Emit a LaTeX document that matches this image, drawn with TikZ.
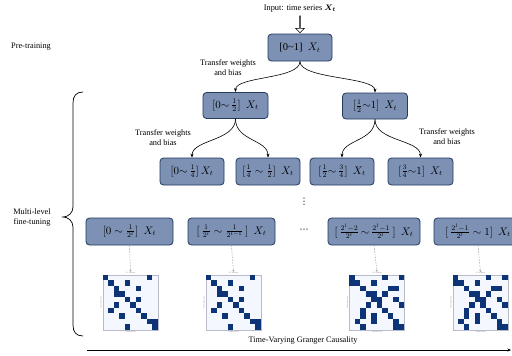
\documentclass[tikz,border=0pt]{standalone}
\usepackage{amsmath}
\usepackage{bm}
\usepackage{fontspec}
\setmainfont{Liberation Serif}
\newfontfamily\dvsym{DejaVu Sans}
\usetikzlibrary{arrows.meta,shapes.arrows}
\definecolor{boxfill}{RGB}{124,145,180}
\definecolor{boxdraw}{RGB}{36,58,94}
\definecolor{cellc}{RGB}{12,52,118}
\definecolor{matbg}{RGB}{244,248,254}
\definecolor{matline}{RGB}{185,188,198}
\definecolor{dashc}{RGB}{165,165,165}
\tikzset{
  stagebox/.style={draw=boxdraw, fill=boxfill, rounded corners=3.5pt, line width=0.8pt,
    minimum height=27pt, inner sep=0pt, font=\fontsize{10.5}{12}\selectfont},
  lbl/.style={font=\fontsize{8.3}{10}\selectfont, align=center, inner sep=0pt},
  arr/.style={line width=0.6pt, -{Stealth[length=4pt,width=3pt]}},
  darr/.style={draw=dashc, line width=0.5pt, dash pattern=on 1.6pt off 1.2pt, -{Stealth[length=2.5pt,width=2.2pt]}},
  matbox/.style={draw=matline, fill=matbg, line width=0.6pt, minimum width=55pt, minimum height=55pt, inner sep=0pt},
  tinytxt/.style={font=\fontsize{2}{2}\selectfont, text=gray, inner sep=0pt},
}
\begin{document}
\begin{tikzpicture}[x=1pt,y=-1pt]
\useasboundingbox (0,0) rectangle (512,356);
\clip (0,0) rectangle (512,356);
% input
\node[lbl] (inp) at (300,9) {Input: time series $\bm{X_t}$};
\node[single arrow, draw, fill=white, line width=0.5pt, shape border rotate=270,
  minimum height=17pt, minimum width=9pt, single arrow head extend=2pt, inner sep=0pt] (inarr) at (300,24) {};
% level 1
\node[stagebox, minimum width=64pt] (b0) at (300,47.5) {[0\textasciitilde1]\ \ $X_t$};
\node[lbl] (pre) at (31,47) {Pre-training};
% level 2
\node[stagebox, minimum width=65pt, minimum height=26pt] (b1) at (235.5,105.5) {$[0{\sim}\,\frac{1}{2}]\ \ X_t$};
\node[stagebox, minimum width=65pt, minimum height=26pt] (b2) at (375,106) {$[\frac{1}{2}{\sim}1]\ \ X_t$};
\node[lbl] (tw0) at (228,68) {Transfer weights\\and bias};
% level 3
\node[stagebox, minimum width=64pt] (b11) at (192,171.5) {$[0{\sim}\,\frac{1}{4}]\,X_t$};
\node[stagebox, minimum width=64pt] (b12) at (268,171.5) {$[\frac{1}{4}\sim\frac{1}{2}]\ \ X_t$};
\node[stagebox, minimum width=64pt] (b21) at (342,171.5) {$[\frac{1}{2}{\sim}\,\frac{3}{4}]\ \ X_t$};
\node[stagebox, minimum width=65pt] (b22) at (420.5,171.5) {$[\frac{3}{4}{\sim}1]\ \ X_t$};
\node[lbl] (tw1) at (163,137.5) {Transfer weights\\and bias};
\node[lbl] (tw2) at (447,136.5) {Transfer weights\\and bias};
% connectors
\draw[arr] (b0.south) .. controls +(0,18) and +(0,-16) .. (b1.north);
\draw[arr] (b0.south) .. controls +(0,18) and +(0,-16) .. (b2.north);
\draw[arr] (b1.south) .. controls +(0,22) and +(0,-18) .. (b11.north);
\draw[arr] (b1.south) .. controls +(0,22) and +(0,-18) .. (b12.north);
\draw[arr] (b2.south) .. controls +(0,22) and +(0,-18) .. (b21.north);
\draw[arr] (b2.south) .. controls +(0,22) and +(0,-18) .. (b22.north);
% dots
\node[inner sep=0pt, font=\dvsym\fontsize{9}{9}\selectfont] (vd) at (304,202) {⋮};
\node[inner sep=0pt, font=\dvsym\fontsize{9}{9}\selectfont] (hd) at (304,231) {⋯};
% level l
\node[stagebox, minimum width=87pt] (c1) at (129.5,231.5) {$[0\sim\frac{1}{2^l}]\ \ X_t$};
\node[stagebox, minimum width=87pt] (c2) at (231.5,231.5) {$[\,\frac{1}{2^l}\sim\frac{1}{2^{l-1}}\,]\ \ X_t$};
\node[stagebox, minimum width=92pt] (c3) at (374,231.5) {$[\,\frac{2^l-2}{2^l}\,{\sim}\,\frac{2^l-1}{2^l}\,]\ \ X_t$};
\node[stagebox, minimum width=88pt] (c4) at (478,231.5) {$[\,\frac{2^l-1}{2^l}\sim 1]\ \ X_t$};
% brace and its label
\draw[line width=0.7pt] (83,92) .. controls (76,92) and (73,96) .. (73,103) -- (73,207)
  .. controls (73,213) and (68,217) .. (63,217) .. controls (68,217) and (73,221) .. (73,227)
  -- (73,325) .. controls (73,332) and (76,336) .. (83,336);
\node[lbl] (ml) at (32,217.5) {Multi-level\\fine-tuning};
% matrices
\foreach \nm/\cx/\cc/\pat in {
  1/130.5/c1/{0/0,0/8,1/1,1/4,2/2,2/6,3/2,3/3,4/4,4/6,5/2,5/5,6/1,6/6,7/3,7/7,8/8,8/9,9/4,9/9},
  2/233.5/c2/{0/0,0/8,1/1,1/4,2/2,2/6,3/2,3/3,4/4,4/6,5/2,5/5,6/1,6/6,7/3,7/7,8/8,8/9,9/4,9/9},
  3/377/c3/{0/0,0/6,0/9,1/0,1/1,1/4,2/2,2/7,2/8,3/3,3/4,3/6,4/4,4/5,4/8,5/3,5/5,5/9,6/2,6/6,7/2,7/4,7/7,8/1,8/4,8/8,9/2,9/8,9/9},
  4/480.5/c4/{0/0,0/6,0/9,1/0,1/1,1/4,2/2,2/7,2/8,3/3,3/4,3/6,4/4,4/5,4/8,5/3,5/5,5/9,6/2,6/6,7/2,7/4,7/7,8/1,8/4,8/8,9/2,9/8,9/9}} {
  \node[matbox] (m\nm) at (\cx,302.5) {};
  \begin{scope}[shift={(m\nm.north west)}]
    \foreach \r/\c in \pat {
      \fill[cellc] (\c*5.5,\r*5.5) rectangle ++(5.5,5.5);
    }
  \end{scope}
  \node[tinytxt, anchor=south] (mt\nm) at ([yshift=0.8pt]m\nm.north) {GC without};
  \node[tinytxt, anchor=north] (mb\nm) at ([yshift=-0.8pt]m\nm.south) {Causal series};
  \node[tinytxt, rotate=90, anchor=south] (ms\nm) at ([xshift=-0.8pt]m\nm.west) {Affected series};
  \draw[darr] (\cc.south) -- (mt\nm.north);
}
% timeline
\node[lbl] (tvgc) at (303,341) {Time-Varying Granger Causality};
\coordinate (t0) at (87,350);
\coordinate (t1) at (511,350);
\draw[line width=0.7pt, -{Stealth[length=3.5pt,width=3pt]}] (t0) -- (t1);
\end{tikzpicture}
\end{document}
